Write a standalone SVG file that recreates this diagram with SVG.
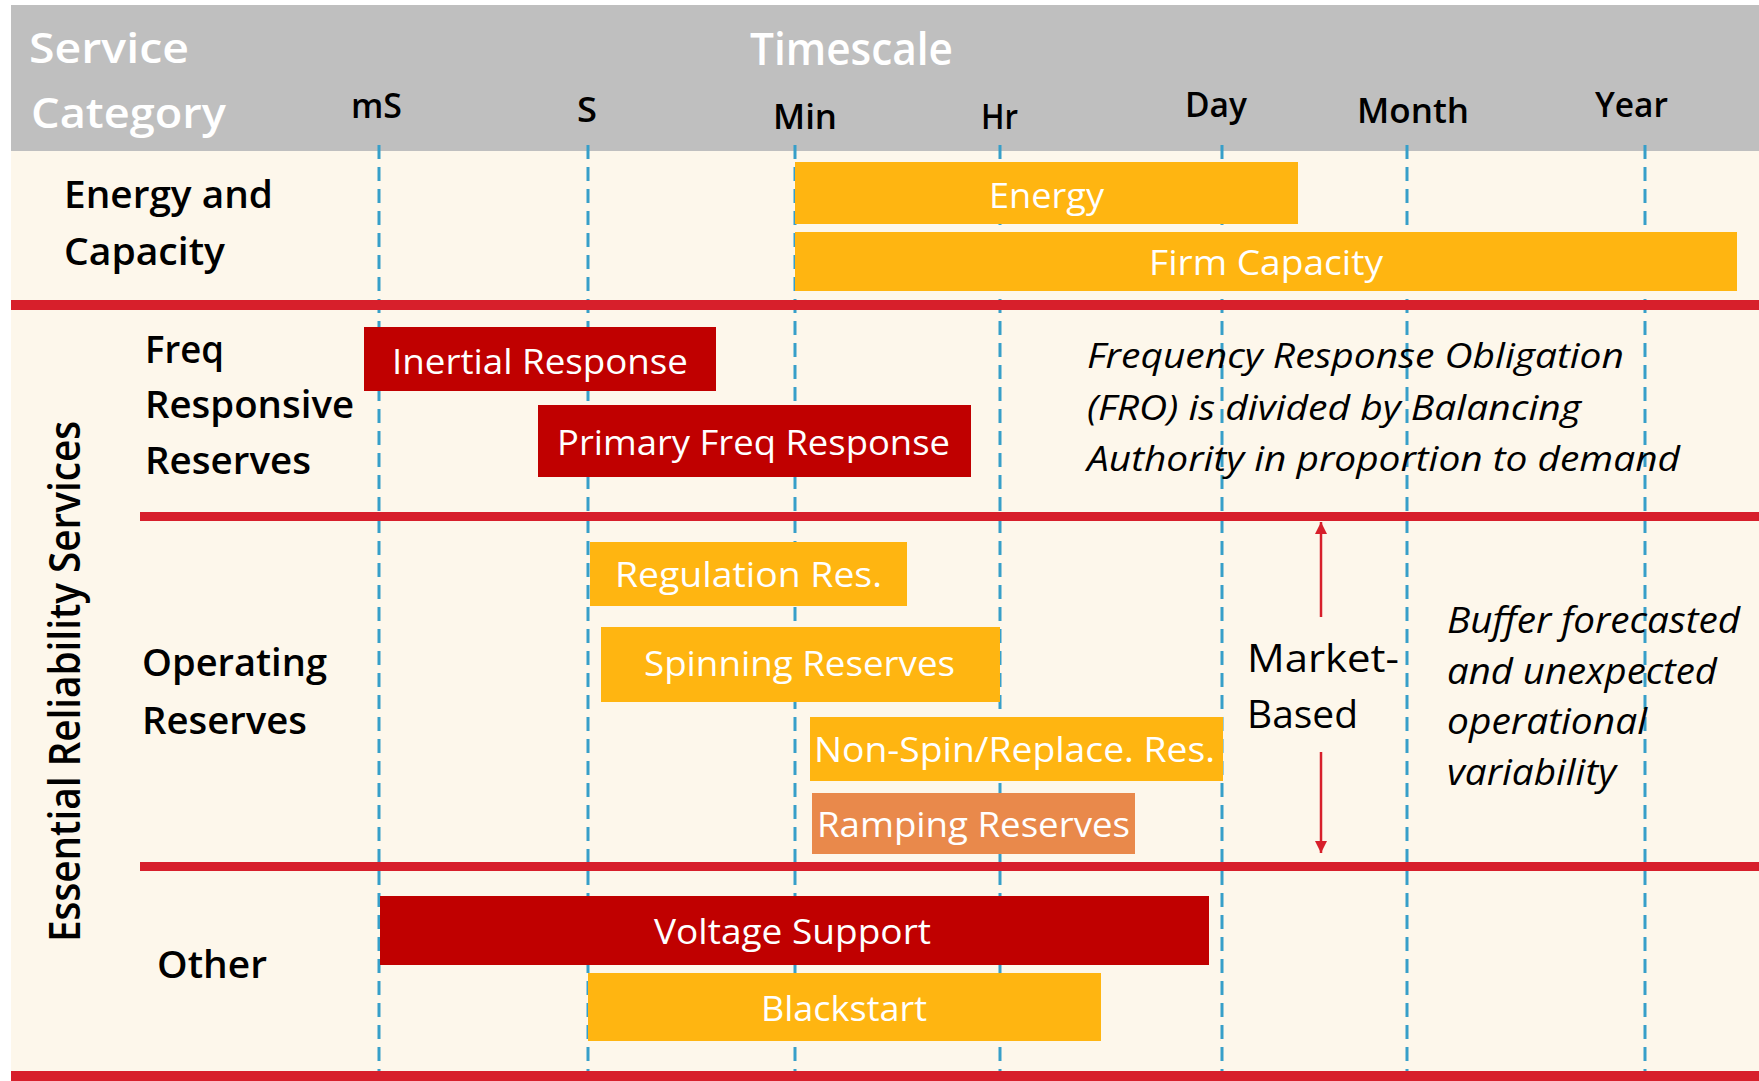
<svg xmlns="http://www.w3.org/2000/svg" width="1759" height="1081" viewBox="0 0 1759 1081">
<style>
.t{font-family:"Open Sans","Liberation Sans",sans-serif;}
.hd{font-size:42px;fill:#ffffff;font-weight:600;}
.tk{font-size:34px;fill:#000000;font-weight:600;}
.lb{font-size:37px;fill:#000000;font-weight:600;}
.bt{font-size:34px;fill:#ffffff;}
.it{font-style:italic;fill:#000000;}
.gold{fill:#FFB511;}
.red{fill:#C00000;}
.ramp{fill:#E9894B;}
.sep{fill:#D71F2B;}
.grid line{stroke:#379FC9;stroke-width:3;stroke-dasharray:14 8;}
.arr{stroke:#D71F2B;stroke-width:2.5;fill:none;}
</style>
<defs>
<marker id="ah" markerUnits="userSpaceOnUse" markerWidth="14" markerHeight="14" refX="12" refY="6" orient="auto">
<path d="M0,0 L12,6 L0,12 z" fill="#D71F2B"/>
</marker>
</defs>
<rect x="0" y="0" width="1759" height="1081" fill="#ffffff"/>
<rect x="11" y="151" width="1748" height="925" fill="#FDF7EB"/>
<g id="header">
<rect x="11" y="5" width="1748" height="146" fill="#BFBFBF"/>
<text class="t hd" x="29" y="63" textLength="160" lengthAdjust="spacingAndGlyphs">Service</text>
<text class="t hd" x="31" y="128" textLength="195" lengthAdjust="spacingAndGlyphs">Category</text>
<text class="t hd" x="750" y="65" textLength="203" lengthAdjust="spacingAndGlyphs" style="font-size:45px">Timescale</text>
<text class="t tk" x="351" y="118" textLength="51" lengthAdjust="spacingAndGlyphs">mS</text>
<text class="t tk" x="577" y="122" textLength="20" lengthAdjust="spacingAndGlyphs">S</text>
<text class="t tk" x="773" y="129" textLength="64" lengthAdjust="spacingAndGlyphs">Min</text>
<text class="t tk" x="981" y="129" textLength="37" lengthAdjust="spacingAndGlyphs">Hr</text>
<text class="t tk" x="1185" y="117" textLength="62" lengthAdjust="spacingAndGlyphs">Day</text>
<text class="t tk" x="1357" y="123" textLength="112" lengthAdjust="spacingAndGlyphs">Month</text>
<text class="t tk" x="1595" y="117" textLength="73" lengthAdjust="spacingAndGlyphs">Year</text>
</g>
<g class="grid" id="gridlines">
<line x1="379" y1="145" x2="379" y2="1071"/>
<line x1="588" y1="145" x2="588" y2="1071"/>
<line x1="795" y1="145" x2="795" y2="1071"/>
<line x1="1000" y1="145" x2="1000" y2="1071"/>
<line x1="1222" y1="145" x2="1222" y2="1071"/>
<line x1="1407" y1="145" x2="1407" y2="1071"/>
<line x1="1645" y1="145" x2="1645" y2="1071"/>
</g>
<g id="separators">
<rect class="sep" x="11" y="300" width="1748" height="10"/>
<rect class="sep" x="140" y="512" width="1619" height="9"/>
<rect class="sep" x="140" y="862" width="1619" height="9"/>
<rect class="sep" x="11" y="1071" width="1748" height="10"/>
</g>
<g id="cat-energy">
<text class="t lb" x="64" y="208" textLength="209" lengthAdjust="spacingAndGlyphs">Energy and</text>
<text class="t lb" x="64" y="265" textLength="161" lengthAdjust="spacingAndGlyphs">Capacity</text>
</g>
<g id="cat-ers">
<text class="t" transform="translate(80,942) rotate(-90)" x="0" y="0" font-size="43" font-weight="600" fill="#000" textLength="521" lengthAdjust="spacingAndGlyphs">Essential Reliability Services</text>
</g>
<g id="cat-freq">
<text class="t lb" x="145" y="363" textLength="79" lengthAdjust="spacingAndGlyphs">Freq</text>
<text class="t lb" x="145" y="418" textLength="209" lengthAdjust="spacingAndGlyphs">Responsive</text>
<text class="t lb" x="145" y="474" textLength="166" lengthAdjust="spacingAndGlyphs">Reserves</text>
</g>
<g id="cat-operating">
<text class="t lb" x="142" y="676" textLength="185" lengthAdjust="spacingAndGlyphs">Operating</text>
<text class="t lb" x="142" y="734" textLength="165" lengthAdjust="spacingAndGlyphs">Reserves</text>
</g>
<g id="cat-other">
<text class="t lb" x="157" y="978" textLength="110" lengthAdjust="spacingAndGlyphs">Other</text>
</g>
<g id="bar-energy">
<rect class="gold" x="795" y="162" width="503" height="62"/>
<text class="t bt" x="989" y="208" textLength="115" lengthAdjust="spacingAndGlyphs">Energy</text>
</g>
<g id="bar-firm-capacity">
<rect class="gold" x="795" y="232" width="942" height="59"/>
<text class="t bt" x="1149" y="275" textLength="234" lengthAdjust="spacingAndGlyphs">Firm Capacity</text>
</g>
<g id="bar-inertial">
<rect class="red" x="364" y="327" width="352" height="64"/>
<text class="t bt" x="392" y="374" textLength="296" lengthAdjust="spacingAndGlyphs">Inertial Response</text>
</g>
<g id="bar-primary">
<rect class="red" x="538" y="405" width="433" height="72"/>
<text class="t bt" x="557" y="455" textLength="393" lengthAdjust="spacingAndGlyphs">Primary Freq Response</text>
</g>
<g id="note-fro">
<text class="t it" font-size="35" x="1087" y="368" textLength="537" lengthAdjust="spacingAndGlyphs">Frequency Response Obligation</text>
<text class="t it" font-size="35" x="1087" y="420" textLength="494" lengthAdjust="spacingAndGlyphs">(FRO) is divided by Balancing</text>
<text class="t it" font-size="35" x="1087" y="471" textLength="593" lengthAdjust="spacingAndGlyphs">Authority in proportion to demand</text>
</g>
<g id="bar-regulation">
<rect class="gold" x="590" y="542" width="317" height="64"/>
<text class="t bt" x="615" y="587" textLength="267" lengthAdjust="spacingAndGlyphs">Regulation Res.</text>
</g>
<g id="bar-spinning">
<rect class="gold" x="601" y="627" width="399" height="75"/>
<text class="t bt" x="644" y="676" textLength="311" lengthAdjust="spacingAndGlyphs">Spinning Reserves</text>
</g>
<g id="bar-nonspin">
<rect class="gold" x="810" y="717" width="413" height="64"/>
<text class="t bt" x="814" y="762" textLength="401" lengthAdjust="spacingAndGlyphs">Non-Spin/Replace. Res.</text>
</g>
<g id="bar-ramping">
<rect class="ramp" x="812" y="793" width="323" height="61"/>
<text class="t bt" x="817" y="837" textLength="313" lengthAdjust="spacingAndGlyphs">Ramping Reserves</text>
</g>
<g id="note-market">
<text class="t" font-size="38" fill="#000" x="1247" y="672" textLength="152" lengthAdjust="spacingAndGlyphs">Market-</text>
<text class="t" font-size="38" fill="#000" x="1247" y="728" textLength="111" lengthAdjust="spacingAndGlyphs">Based</text>
</g>
<g id="note-buffer">
<text class="t it" font-size="36" x="1447" y="633" textLength="293" lengthAdjust="spacingAndGlyphs">Buffer forecasted</text>
<text class="t it" font-size="36" x="1447" y="684" textLength="270" lengthAdjust="spacingAndGlyphs">and unexpected</text>
<text class="t it" font-size="36" x="1447" y="734" textLength="200" lengthAdjust="spacingAndGlyphs">operational</text>
<text class="t it" font-size="36" x="1447" y="785" textLength="169" lengthAdjust="spacingAndGlyphs">variability</text>
</g>
<g id="bar-voltage">
<rect class="red" x="380" y="896" width="829" height="69"/>
<text class="t bt" x="654" y="944" textLength="277" lengthAdjust="spacingAndGlyphs">Voltage Support</text>
</g>
<g id="bar-blackstart">
<rect class="gold" x="588" y="973" width="513" height="68"/>
<text class="t bt" x="761" y="1021" textLength="166" lengthAdjust="spacingAndGlyphs">Blackstart</text>
</g>
<g id="connectors">
<line class="arr" x1="1321" y1="617" x2="1321" y2="522" marker-end="url(#ah)"/>
<line class="arr" x1="1321" y1="752" x2="1321" y2="853" marker-end="url(#ah)"/>
</g>
</svg>
